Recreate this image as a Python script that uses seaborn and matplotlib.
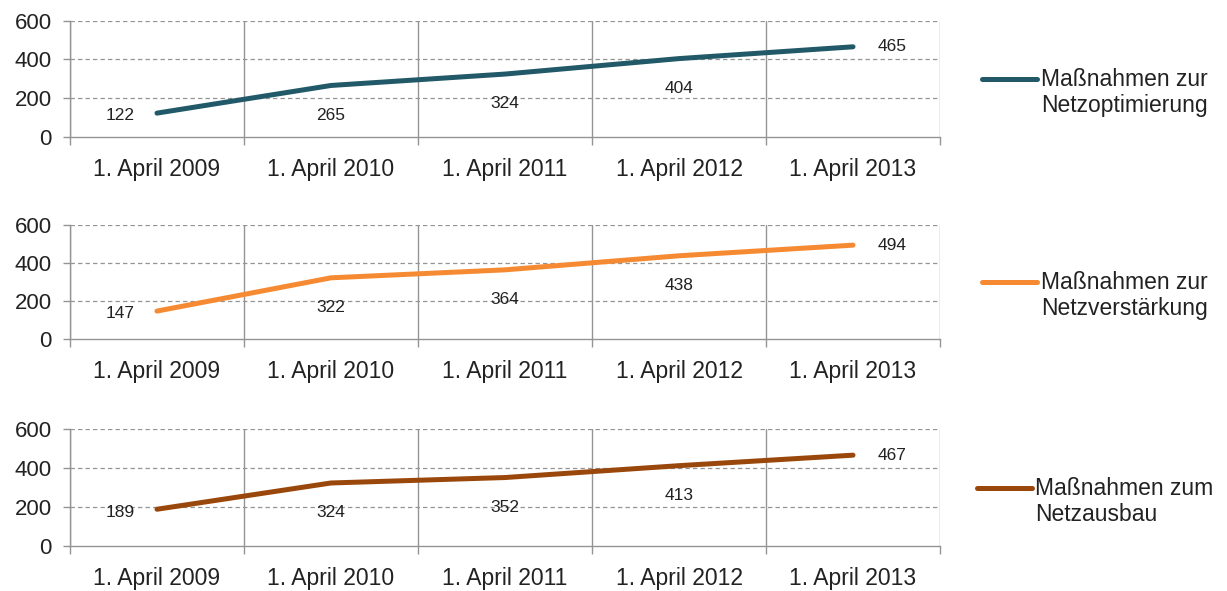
import numpy as np
import pandas as pd
import matplotlib
matplotlib.use("Agg")
import matplotlib.pyplot as plt
import seaborn as sns
from matplotlib.legend_handler import HandlerLine2D

dates = ["1. April 2009", "1. April 2010", "1. April 2011", "1. April 2012", "1. April 2013"]
series_names = ["Maßnahmen zur\nNetzoptimierung",
                "Maßnahmen zur\nNetzverstärkung",
                "Maßnahmen zum\nNetzausbau"]
optimierung = [122, 265, 324, 404, 465]
verstaerkung = [147, 322, 364, 438, 494]
ausbau = [189, 324, 352, 413, 467]
colors = ["#215968", "#F68A33", "#9A470C"]
y_ticks = [0, 200, 400, 600]

sns.set_theme(style="white")
plt.rcParams["font.family"] = ["Liberation Sans", "DejaVu Sans"]

fig = plt.figure(figsize=(12.27, 5.91), dpi=100)
W, H = 1227, 591
left_px, right_px = 70, 940
boxes = [(20.7, 136.7), (225, 339), (429.3, 546)]

grid_col = "#949494"
text_col = "#222222"


class FirstLineHandler(HandlerLine2D):
    def __init__(self, shift, **kw):
        super().__init__(**kw)
        self.shift = shift

    def create_artists(self, legend, orig_handle, xdescent, ydescent, width,
                       height, fontsize, trans):
        arts = super().create_artists(legend, orig_handle, xdescent, ydescent,
                                      width, height, fontsize, trans)
        for a in arts:
            a.set_ydata(np.asarray(a.get_ydata(), dtype=float) + self.shift)
        return arts


all_values = [optimierung, verstaerkung, ausbau]
for i, (vals, name, col, (top, bot)) in enumerate(zip(all_values, series_names, colors, boxes)):
    ax = fig.add_axes([left_px / W, (H - bot) / H, (right_px - left_px) / W, (bot - top) / H])
    df = pd.DataFrame({"Datum": dates, "Anzahl": vals, "Serie": name})
    sns.lineplot(data=df, x="Datum", y="Anzahl", ax=ax, color=col, linewidth=3.6,
                 sort=False, label=name, solid_capstyle="round")
    ax.set_xlim(-0.5, len(dates) - 0.5)
    ax.set_ylim(0, 600)
    ax.set_yticks(y_ticks)
    ax.set_xlabel("")
    ax.set_ylabel("")
    ax.set_xticks(range(len(dates)))
    ax.set_xticklabels(dates)
    ax.set_xticks(np.arange(-0.5, len(dates)), minor=True)
    ax.tick_params(axis="x", which="major", length=0, pad=15, labelsize=16.5, labelcolor=text_col)
    ax.tick_params(axis="x", which="minor", length=6, width=1, color=grid_col, bottom=True)
    ax.tick_params(axis="y", which="major", length=5, width=1, color=grid_col, left=True,
                   pad=8, labelsize=16, labelcolor=text_col)
    ax.grid(False)
    for yv in y_ticks[1:]:
        ax.axhline(yv, color=grid_col, linewidth=0.9, linestyle=(0, (3.5, 2.5)), zorder=0)
    ax.grid(True, axis="x", which="minor", color=grid_col, linewidth=1, linestyle="-", zorder=0)
    for s in ["top", "right"]:
        ax.spines[s].set_visible(False)
    for s in ["left", "bottom"]:
        ax.spines[s].set_color(grid_col)
        ax.spines[s].set_linewidth(1)

    n = len(vals)
    for j, v in enumerate(vals):
        if j == 0:
            off = (-26.5, -2)
        elif j == n - 1:
            off = (28, 0)
        else:
            off = (0, -21.5)
        ax.annotate(str(v), (j, v), xytext=off, textcoords="offset points",
                    ha="center", va="center", fontsize=12.5, color=text_col)

    fs = 16.5
    handles, labels = ax.get_legend_handles_labels()
    leg = ax.legend(handles, labels, loc="center", bbox_to_anchor=(1.178, 0.38),
                    frameon=False, fontsize=fs, handlelength=2.4, handletextpad=0.15,
                    borderpad=0, labelspacing=0,
                    handler_map={handles[0]: FirstLineHandler(shift=fs * 0.62)})
    for t in leg.get_texts():
        t.set_color(text_col)
        t.set_linespacing(1.2)

fig.savefig("out.png", dpi=100)
